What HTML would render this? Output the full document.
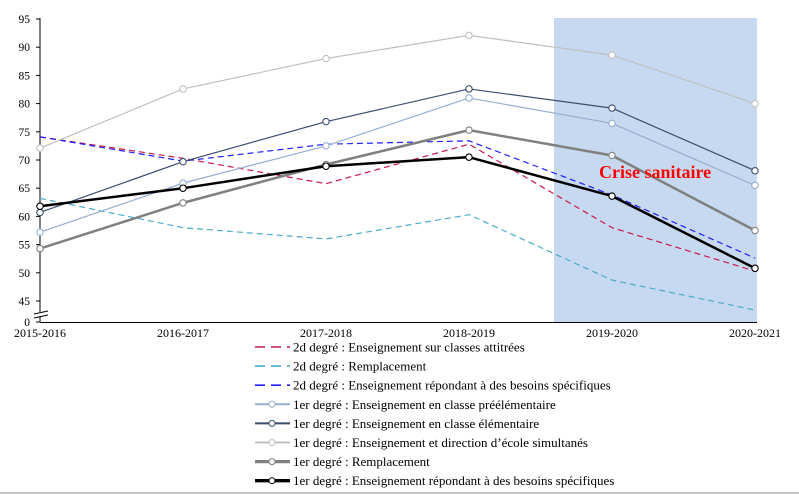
<!DOCTYPE html>
<html><head><meta charset="utf-8"><style>
html,body{margin:0;padding:0;background:#fff}
svg{display:block;font-family:"Liberation Serif",serif}
</style></head><body>
<svg id="chart" width="799" height="494" xmlns="http://www.w3.org/2000/svg"></svg>
<script>
const categories=["2015-2016","2016-2017","2017-2018","2018-2019","2019-2020","2020-2021"];
const yTicks=[45,50,55,60,65,70,75,80,85,90,95];
const sRed=[74.1,70.3,65.8,72.8,58.0,50.3];
const sCyan=[63.2,58.0,56.0,60.3,48.7,43.4];
const sBlue=[74.1,69.8,72.8,73.4,63.8,52.6];
const sPre=[57.2,65.9,72.5,81.0,76.5,65.5];
const sElem=[60.7,69.7,76.8,82.6,79.2,68.1];
const sDir=[72.1,82.6,88.0,92.1,88.6,80.0];
const sRemp=[54.3,62.4,69.2,75.3,70.8,57.5];
const sBes=[61.8,65.0,68.9,70.5,63.6,50.8];
const labels=["2d degré : Enseignement sur classes attitrées","2d degré : Remplacement","2d degré : Enseignement répondant à des besoins spécifiques","1er degré : Enseignement en classe préélémentaire","1er degré : Enseignement en classe élémentaire","1er degré : Enseignement et direction d’école simultanés","1er degré : Remplacement","1er degré : Enseignement répondant à des besoins spécifiques"];
const series=[
 {d:sRed,c:"#c8194b",w:1.2,dash:"6,4",m:false,n:"series-2d-classes"},
 {d:sCyan,c:"#4bacc6",w:1.2,dash:"6,4",m:false,n:"series-2d-remplacement"},
 {d:sBlue,c:"#1f1fff",w:1.2,dash:"6,4",m:false,n:"series-2d-besoins"},
 {d:sPre,c:"#95aed0",w:1.2,dash:null,m:true,n:"series-1er-preelementaire"},
 {d:sElem,c:"#3b4e6e",w:1.2,dash:null,m:true,n:"series-1er-elementaire"},
 {d:sDir,c:"#c0c0c0",w:1.2,dash:null,m:true,n:"series-1er-direction"},
 {d:sRemp,c:"#808080",w:2.5,dash:null,m:true,n:"series-1er-remplacement"},
 {d:sBes,c:"#000000",w:2.5,dash:null,m:true,n:"series-1er-besoins"}
];
const NS="http://www.w3.org/2000/svg";
const svg=document.getElementById('chart');
function el(t,a,p){const e=document.createElementNS(NS,t);for(const k in a)e.setAttribute(k,a[k]);(p||svg).appendChild(e);return e;}
const x=i=>40+i*143;
const y=v=>19+(95-v)*5.64;
let r=el('rect',{x:554,y:18,width:203,height:304,fill:"#c6d9f0"});


let ax=el('line',{x1:40,y1:18,x2:40,y2:322,stroke:"#000","stroke-width":1});


let bx=el('line',{x1:40,y1:322.5,x2:757,y2:322.5,stroke:"#000","stroke-width":1});


yTicks.forEach(v=>{
 el('line',{x1:36,y1:y(v),x2:40,y2:y(v),stroke:"#000"});
 const t=el('text',{x:30,y:y(v)+4,"text-anchor":"end","font-size":11.5,fill:"#000"});
 t.textContent=v;
 
 
});
el('line',{x1:36,y1:322,x2:40,y2:322,stroke:"#000"});
let z=el('text',{x:30,y:326,"text-anchor":"end","font-size":11.5});z.textContent="0";


el('rect',{x:33,y:312,width:14,height:4,fill:"#fff",transform:"rotate(-15 40 314)"});
el('line',{x1:34,y1:314,x2:48,y2:311,stroke:"#000"});
el('line',{x1:34,y1:318,x2:48,y2:315,stroke:"#000"});
categories.forEach((c,i)=>{
 const t=el('text',{x:x(i),y:337,"text-anchor":"middle","font-size":12});
 t.textContent=c;
 
 
});
series.forEach(s=>{
 const g=el('g',{});
 
 
 const p=el('polyline',{points:s.d.map((v,i)=>x(i)+","+y(v)).join(" "),fill:"none",stroke:s.c,"stroke-width":s.w,"stroke-linejoin":"round"},g);
 if(s.dash)p.setAttribute('stroke-dasharray',s.dash);
 if(s.m)s.d.forEach((v,i)=>{
  const c=el('circle',{cx:x(i),cy:y(v),r:3.2,fill:"#fff",stroke:s.c,"stroke-width":1.1},g);
  
  
 });
});
let cs=el('text',{x:599,y:178,"font-size":18,"font-weight":"bold",fill:"#ff0000"});
cs.textContent="Crise sanitaire";


series.forEach((s,i)=>{
 const yy=347+i*19.1;
 const g=el('g',{});
 
 
 const l=el('line',{x1:255,y1:yy,x2:290,y2:yy,stroke:s.c,"stroke-width":s.m?s.w+0.8:1.6},g);
 if(s.dash)l.setAttribute('stroke-dasharray',"10,6");
 if(s.m)el('circle',{cx:272,cy:yy,r:3,fill:"#fff",stroke:s.c,"stroke-width":1},g);
 const t=el('text',{x:293,y:yy+4.5,"font-size":13,fill:"#000"},g);
 t.textContent=labels[i];
});
let bl=el('line',{x1:0,y1:493,x2:799,y2:493,stroke:"#b0b0b0","stroke-width":1.5});


</script>
</body></html>
